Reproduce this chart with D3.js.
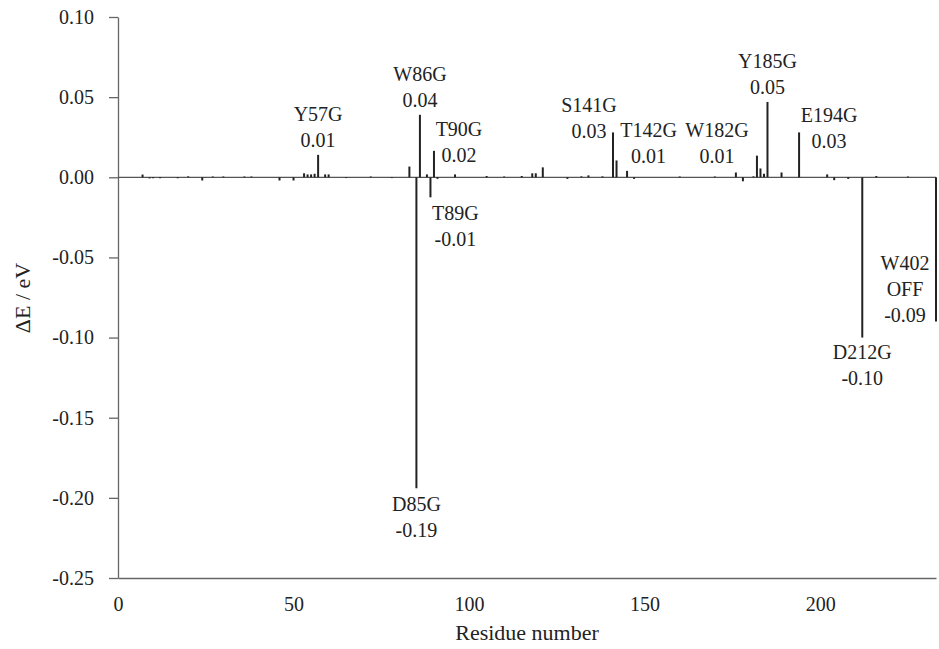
<!DOCTYPE html>
<html>
<head>
<meta charset="utf-8">
<script src="https://cdn.jsdelivr.net/npm/d3@7"></script>
<style>
  body { margin: 0; background: #fff; }
</style>
</head>
<body>
<div id="chart"></div>
<script>
// residue number -> energy change (eV)
const residues = [7, 9, 10, 12, 17, 20, 24, 27, 30, 36, 38, 46, 50, 53, 54, 55, 56, 57, 59, 60,
  65, 72, 78, 83, 85, 86, 88, 89, 90, 91, 96, 105, 110, 115, 118, 119, 121, 128, 132, 134,
  138, 141, 142, 145, 147, 160, 170, 176, 178, 181, 182, 183, 184, 185, 189, 194, 202, 204,
  208, 212, 216, 225, 233]
const deltaE = [0.0017, -0.0007, -0.0006, -0.0006, -0.0006, 0.0006, -0.002, 0.0005, 0.0005, 0.0005, 0.0005, -0.002, -0.002, 0.0025, 0.0018, 0.0018, 0.0022, 0.014, 0.0018, 0.0018,
  -0.0005, 0.0005, -0.0005, 0.0067, -0.194, 0.039, 0.0018, -0.0125, 0.0165, -0.001, 0.0018, 0.0008, 0.0005, 0.0008, 0.0025, 0.0025, 0.0062, -0.001, 0.0006, 0.0012,
  0.0006, 0.028, 0.0105, 0.004, -0.001, 0.0005, 0.0005, 0.003, -0.0025, 0.0006, 0.0135, 0.0055, 0.0022, 0.047, 0.003, 0.028, 0.0018, -0.0018,
  -0.001, -0.1, 0.0008, 0.0005, -0.09]

// annotated mutants
const labelResidues = [57, 86, 90, 89, 85, 141, 142, 182, 185, 194, 212, 233]
const labelNames = [['Y57G'], ['W86G'], ['T90G'], ['T89G'], ['D85G'], ['S141G'], ['T142G'], ['W182G'], ['Y185G'], ['E194G'], ['D212G'], ['W402', 'OFF']]
const labelValues = ['0.01', '0.04', '0.02', '-0.01', '-0.19', '0.03', '0.01', '0.01', '0.05', '0.03', '-0.10', '-0.09']

const yTicks = [0.10, 0.05, 0.00, -0.05, -0.10, -0.15, -0.20, -0.25]
const xTicks = [0, 50, 100, 150, 200]

// label offsets (px) from the bar tip: dx of text centre, dy of last line centre
const labelDx = [0, 0, 25, 25, 0, -24, 32, -40, 0, 30, 0, -31]
const labelDy = [-15, -15, 4, 42, 42, -1, -4, 0, -15, 9, 40, -7]

const fontFamily = '"Liberation Serif", "Times New Roman", Times, serif'
const width = 939
const height = 649
const lineH = 26

const svg = d3.select('#chart').append('svg')
  .attr('width', width)
  .attr('height', height)
  .style('font-family', fontFamily)

const xScale = d3.scaleLinear()
  .domain([0, 233])
  .range([118, 936])

const yScale = d3.scaleLinear()
  .domain([-0.25, 0.10])
  .range([578, 17])

// y軸
const yAxis = d3.axisLeft(yScale)
  .tickValues(yTicks)
  .tickSize(9)
  .tickSizeOuter(0)
  .tickPadding(15)

const gy = svg.append('g')
  .attr('transform', 'translate(118, 0)')
  .call(yAxis)
  .attr('font-family', null)
gy.selectAll('path, line').attr('stroke', '#666').attr('stroke-width', 1.3)
gy.selectAll('text')
  .style('font-family', fontFamily)
  .style('font-size', '20px')
  .attr('fill', '#222')
  .text((d) => d3.format('.2f')(d).replace('−', '-'))

// x軸
const xAxis = d3.axisBottom(xScale)
  .tickValues(xTicks)
  .tickSize(0)
  .tickSizeOuter(0)
  .tickPadding(19)

const gx = svg.append('g')
  .attr('transform', 'translate(0, 578)')
  .call(xAxis)
  .attr('font-family', null)
gx.selectAll('path').attr('stroke', '#666').attr('stroke-width', 1.3)
gx.selectAll('text')
  .style('font-family', fontFamily)
  .style('font-size', '20px')
  .attr('fill', '#222')

// zero line
svg.append('line')
  .attr('x1', xScale(0))
  .attr('x2', xScale(233))
  .attr('y1', yScale(0))
  .attr('y2', yScale(0))
  .attr('stroke', '#555')
  .attr('stroke-width', 1.2)

// bars
const data = residues.map((r, i) => ({ r: r, v: deltaE[i] }))
svg.append('g')
  .selectAll('line')
  .data(data)
  .enter()
  .append('line')
  .attr('x1', (d) => xScale(d.r))
  .attr('x2', (d) => xScale(d.r))
  .attr('y1', yScale(0))
  .attr('y2', (d) => yScale(d.v))
  .attr('stroke', '#222')
  .attr('stroke-width', 2)

// labels
labelResidues.forEach((r, i) => {
  const v = deltaE[residues.indexOf(r)]
  const lines = labelNames[i].concat([labelValues[i]])
  const cx = xScale(r) + labelDx[i]
  const lastY = yScale(v) + labelDy[i]
  const t = svg.append('text')
    .attr('text-anchor', 'middle')
    .attr('fill', '#222')
    .style('font-family', fontFamily)
    .style('font-size', '20px')
  lines.forEach((s, k) => {
    t.append('tspan')
      .attr('x', cx)
      .attr('y', lastY - (lines.length - 1 - k) * lineH)
      .attr('dy', '0.35em')
      .text(s)
  })
})

// axis titles
svg.append('text')
  .attr('x', 527)
  .attr('y', 632)
  .attr('text-anchor', 'middle')
  .attr('dy', '0.35em')
  .attr('fill', '#222')
  .style('font-family', fontFamily)
  .style('font-size', '22px')
  .text('Residue number')

svg.append('text')
  .attr('transform', 'translate(22, 298) rotate(-90)')
  .attr('text-anchor', 'middle')
  .attr('dy', '0.35em')
  .attr('fill', '#222')
  .style('font-family', fontFamily)
  .style('font-size', '22px')
  .text('ΔE / eV')
</script>
</body>
</html>
